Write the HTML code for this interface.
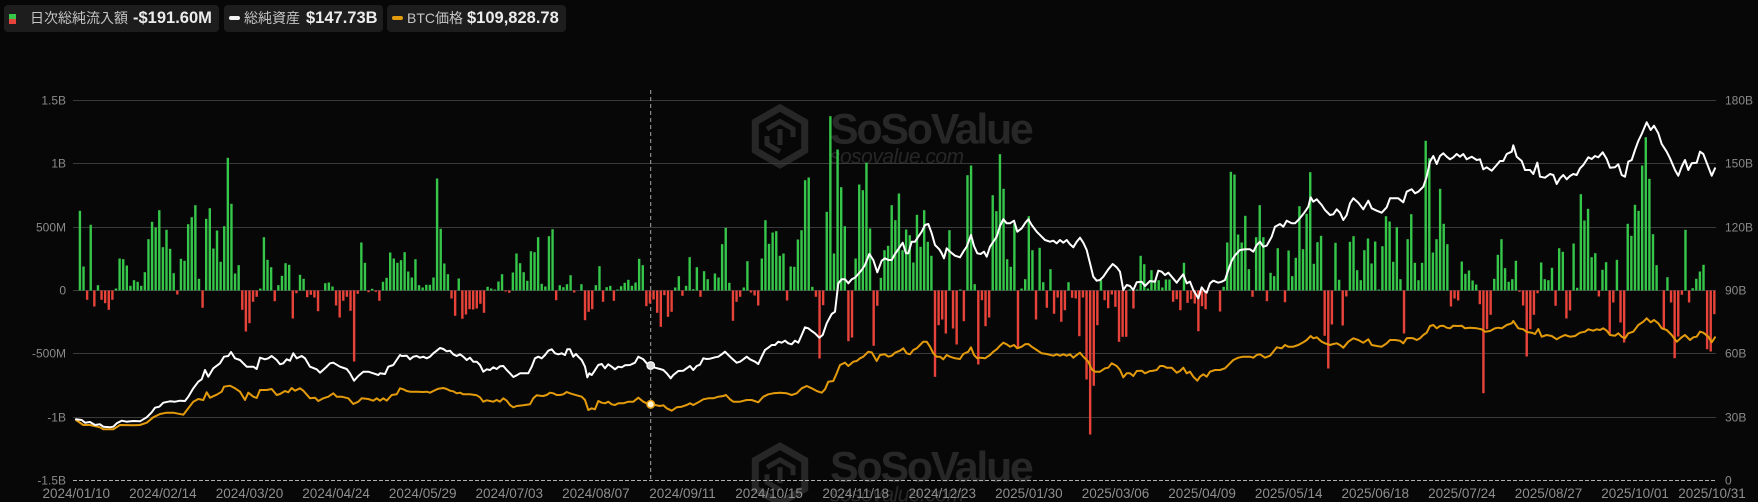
<!DOCTYPE html>
<html><head><meta charset="utf-8">
<style>
html,body{margin:0;padding:0;background:#070707;width:1758px;height:502px;overflow:hidden;}
#wrap{position:relative;width:1758px;height:502px;font-family:"Liberation Sans","Noto Sans CJK JP",sans-serif;}
.box{position:absolute;top:5px;height:27px;background:#1d1d1d;border-radius:4px;}
.lab{position:absolute;top:5px;height:27px;line-height:27px;font-size:14px;color:#c4c4c4;white-space:nowrap;}
.val{position:absolute;top:5px;height:27px;line-height:27px;font-size:16.5px;font-weight:bold;color:#ececec;white-space:nowrap;}
svg{position:absolute;left:0;top:0;}
</style></head><body><div id="wrap">
<svg width="1758" height="502" xmlns="http://www.w3.org/2000/svg">
<g fill="none" stroke="#272727">
<polygon points="780,107.8 804.7,122 804.7,150.5 780,164.8 755.3,150.5 755.3,122" stroke-width="7"/>
<path d="M767,129 L780,121.5 L793,129 L793,137 M780,129 L780,145 M767,136 L767,144 L780,151.5" stroke-width="5"/>
<polygon points="780,446.1 804.7,460.3 804.7,488.8 780,503.1 755.3,488.8 755.3,460.3" stroke-width="7"/>
<path d="M767,467.3 L780,459.8 L793,467.3 L793,475.3 M780,467.3 L780,483.3 M767,474.3 L767,482.3 L780,489.8" stroke-width="5"/>
</g>
<g fill="#272727" font-family="Liberation Sans, sans-serif">
<text x="830" y="143.3" font-size="43" font-weight="bold" letter-spacing="-2.3">SoSoValue</text>
<text x="830" y="163.3" font-size="21" font-style="italic" letter-spacing="-0.5">sosovalue.com</text>
<text x="830" y="481.6" font-size="43" font-weight="bold" letter-spacing="-2.3">SoSoValue</text>
<text x="830" y="501.6" font-size="21" font-style="italic" letter-spacing="-0.5">sosovalue.com</text>
</g>
<g stroke="#3a3a3a" stroke-width="1">
<line x1="73" y1="100.5" x2="1716" y2="100.5"/>
<line x1="73" y1="163.5" x2="1716" y2="163.5"/>
<line x1="73" y1="227.5" x2="1716" y2="227.5"/>
<line x1="73" y1="290.5" x2="1716" y2="290.5"/>
<line x1="73" y1="353.5" x2="1716" y2="353.5"/>
<line x1="73" y1="417.5" x2="1716" y2="417.5"/>
</g>
<line x1="73" y1="480.5" x2="1716" y2="480.5" stroke="#b0b0b0" stroke-width="1" stroke-dasharray="4 2"/>
<line x1="650.7" y1="90" x2="650.7" y2="480" stroke="#a8a8a8" stroke-width="1" stroke-dasharray="4 3"/>
<g id="bars"></g>
<g id="lines" fill="none" stroke-linejoin="round" stroke-linecap="round"></g>
<circle cx="650.7" cy="365.5" r="3.8" fill="#d8d8d8" stroke="#ffffff" stroke-width="1.2"/>
<circle cx="650.7" cy="404.3" r="3.8" fill="#fff3d0" stroke="#e39b0b" stroke-width="1.5"/>
<g font-family="Liberation Sans, sans-serif" font-size="12" fill="#8a8a8a" text-anchor="end">
<text x="66" y="104.5">1.5B</text>
<text x="66" y="167.5">1B</text>
<text x="66" y="231.5">500M</text>
<text x="66" y="294.5">0</text>
<text x="66" y="357.5">-500M</text>
<text x="66" y="421.5">-1B</text>
<text x="66" y="484.5">-1.5B</text>
</g>
<g font-family="Liberation Sans, sans-serif" font-size="12" fill="#8a8a8a">
<text x="1725" y="104.5">180B</text>
<text x="1725" y="167.5">150B</text>
<text x="1725" y="231.5">120B</text>
<text x="1725" y="294.5">90B</text>
<text x="1725" y="357.5">60B</text>
<text x="1725" y="421.5">30B</text>
<text x="1725" y="484.5">0</text>
</g>
<g font-family="Liberation Sans, sans-serif" font-size="13.5" fill="#8e8e8e" text-anchor="middle">
<text x="76.3" y="498">2024/01/10</text>
<text x="162.9" y="498">2024/02/14</text>
<text x="249.5" y="498">2024/03/20</text>
<text x="336.1" y="498">2024/04/24</text>
<text x="422.7" y="498">2024/05/29</text>
<text x="509.3" y="498">2024/07/03</text>
<text x="595.9" y="498">2024/08/07</text>
<text x="682.5" y="498">2024/09/11</text>
<text x="769.1" y="498">2024/10/15</text>
<text x="855.7" y="498">2024/11/18</text>
<text x="942.3" y="498">2024/12/23</text>
<text x="1028.9" y="498">2025/01/30</text>
<text x="1115.5" y="498">2025/03/06</text>
<text x="1202.1" y="498">2025/04/09</text>
<text x="1288.7" y="498">2025/05/14</text>
<text x="1375.3" y="498">2025/06/18</text>
<text x="1461.9" y="498">2025/07/24</text>
<text x="1548.5" y="498">2025/08/27</text>
<text x="1635.1" y="498">2025/10/01</text>
<text x="1712" y="498">2025/10/31</text>
</g>
</svg>

<div class="box" style="left:4px;width:215px;"></div>
<div style="position:absolute;left:8.5px;top:13.5px;width:7px;height:5px;background:#35c64a;"></div>
<div style="position:absolute;left:8.5px;top:18.5px;width:7px;height:5px;background:#e8433a;"></div>
<div class="lab" style="left:30px;">日次総純流入額</div>
<div class="val" style="left:133px;">-$191.60M</div>

<div class="box" style="left:224px;width:159px;"></div>
<div style="position:absolute;left:228.5px;top:16px;width:11px;height:3.5px;background:#f2f2f2;border-radius:2px;"></div>
<div class="lab" style="left:244px;">総純資産</div>
<div class="val" style="left:306px;">$147.73B</div>

<div class="box" style="left:387px;width:179px;"></div>
<div style="position:absolute;left:392px;top:16px;width:11px;height:3.5px;background:#e39b0b;border-radius:2px;"></div>
<div class="lab" style="left:407px;">BTC価格</div>
<div class="val" style="left:467px;">$109,828.78</div>
</div>
<script>
(function(){
const X0=76.3,DX=3.608,ZY=290.5;
const segs=[
[1,[79.7,24,-9.3,65.7,-16,5.3,-9.3,-12.7,-19.3,-9.3,
2,32,31.3,25,4.7,10.3,8.7,4.7,18.3,51.3,
68.7,63,80.3,43.3,60.7,41.7,17.3,-4,31.7,29.7,
66.3,73.3,85.3,11.7,-17.3,71.7,82.3,42,60,28.7,
64.3,132.7,86.7,17,25.3,-19.3,-41,-32.7,-11.3,-6.3,
2,53.3,30.7,23.3,-10.7,5.3,14.7,27.3,25.7,-28,
-2.7,15.7,11.7,-6.7,-4.3,-7,-20.7,0,7.3,8,
4,-15,-27,-10.3,-6.3,-20.3,-71,-3.3,48,27.7,
-1.7,1.7,-1.3,-10.3,8.7,12.7]],
[87,[38,32,27.7,30.3,38.3,19,13,31.3,5.3,3,
5.7,5.7,13,112,61.7,27,16.3,-8,-25.3,12,
-28.3,-24,-18.7,-19,-18,-13.3,-22.3,3.7,2,1,
9,16.3,-1,-2.3,18,37,27.3,18.3,9.7,39.3,
38.3,53.3,6.7,4,54.3,61.3,-9.7,5.3,3.3,6.3,
15.3,-2,0,6.3,-29.7,-21.3,-18.7,5.3,24.3,-11.3,
3.3,4.7,-10.3,1,4.3,7.7,10.7,4.7,8,31.7,
25.3,-15.7,-13]],
[160,[-9,-22.3,-36.3,-4.7,-26.3,-21.3,3,14.3,-5.3,4.7,
33.3,1.3,23.3,-6.3,19.3,11.3,0,17,13,46.3,
62.7,7.7,-30.3,-11.3,-6.3,3,29.3,-2,-5,-15,
32,70.3,46.7,58,59.3,34.7,37,-10,24,23.7,
51,60.3,110.3,113,3.7,-6.3,-68,-14.7,78.7,174.3,
37,141,103.3,64.3,-50.7,-47,32,106,100.3,127.7,
62,-55.3,-15.3,12.7,40.3,44.7,85.3,70.3,97]],
[229,[40.3,61,55.3,28,75.7,43.7,80.3,48.7,34.7,-86.3,
-34.7,-29,-43,60.3,-38,-54,1,-30.7,115.3,125,
6.3,-74,-9.7,-35.7,-27,95.3,79.3,136.3,101.7,31.3,
23.7,67,-57.3,2,11.3,74.3,40.3,-29,42.7,8.3,
-17.3,21.3,-23.3,-7,-31.3,-19.7,8.3,-7.3,-8,-45.7,
-7,-89,-144,-95.3,-34.7,10.3,-9.7,-17.7,-4,-16.3,
-51.3,-46.3,-46.3,1,-18,1,34.7,26.3,2]],
[298,[20.3,10.3,10.3,3,11,11,-11.3,-8.7,-19.7,27.7,
-12.3,-8.7,-13,-40.7,-15.7,-18.7,0,0,0,-21,
3.7,48,118.7,116,56,48,74.7,21.3,-6.3,53.3,
85.3,53.3,-10.7,17.7,14.3,42.3,0,-11.7,40,14.3,
32.7,84.3,41.3,76.7,118.3,26.7,48.3,54.7,-45.3,-78,
-34,47.7,10.7,-35,-6,48.7,54.3,20.3,10.3,40.3,
52,27,49,1,44.3,74.3,69,28.7,63.3,11.3,
-43,51.3]],
[370,[76.3,27.7,10.3,27.7,149.7,132.3,38,51.3,101.7,66.7,
46.3,-16,-8,-10,29,16.7,20,10,6,-13.7,
-102.7,-38.7,-24.3,11.7,35.7,51.3,22.3,8.7,11.3,29.7,
-1.3,-15,-66,-38.7,-24.3,-2.7,28,11.3,10.3,22.7,
-15.3,42.3,38.7,-28,-20,47,2.7,96.3,70,81.7,
33.3,37.3,-6,20.7,28.3,-43.3,-12,30.7,-32,-52,
66.7,54.7,85.7,79.7,125,153.3,111.7,56.3,25.3,0,
-39.3,13.3,-12,-67.7,-46,-4.3,60.7,-12,2.3,11.7,
19,25.7,-58.7,-61,-23.7]]
];
let s='';
for(const [st,arr] of segs){
  arr.forEach(function(h,k){
    const i=st+k; const x=X0+DX*i-1.2;
    if(Math.abs(h)<0.4) return;
    const y=h>0?ZY-h:ZY;
    s+='<rect x="'+x.toFixed(2)+'" y="'+y.toFixed(2)+'" width="2.4" height="'+Math.abs(h).toFixed(2)+'" fill="'+(h>0?'#35c64a':'#e8433a')+'"/>';
  });
}
document.getElementById('bars').innerHTML=s;

const white=[
[0,80,0,400.5,[[228,1018],[245,1020],[255,1028],[270,1026],[285,1035],[300,1033],[310,1040],[330,1042],[340,1040],[350,1030],[365,1022],[380,1025],[400,1023],[420,1024],[440,1012],[455,997],[465,983],[478,980],[490,968],[510,964],[525,965],[540,962],[555,963],[565,950],[580,925],[595,905],[605,898],[615,870],[625,890],[640,865],[660,850],[672,830],[685,828],[693,816],[705,835],[720,840],[740,860],[760,860],[770,867],[780,833],[795,838],[805,835],[815,828],[830,840],[840,853],[850,850],[860,838],[870,842],[880,820],[890,835],[905,828],[915,835],[930,860],[950,868],[960,878],[980,860],[990,850],[1000,848],[1020,860],[1040,867],[1050,880],[1062,902],[1075,888],[1090,875],[1105,875],[1120,880],[1135,885],[1140,880],[1155,882],[1165,860],[1180,855],[1200,825]]],
[390,90,400.5,650,[[35,798],[50,797],[60,808],[70,800],[80,798],[90,803],[100,800],[110,805],[120,800],[130,790],[140,782],[150,774],[160,777],[170,784],[180,782],[190,793],[200,798],[210,793],[220,800],[230,810],[240,803],[250,815],[260,815],[270,825],[280,845],[290,838],[300,840],[310,832],[320,837],[330,829],[340,828],[350,840],[360,850],[370,861],[380,856],[390,850],[400,850],[415,850],[425,830],[435,805],[445,800],[455,805],[465,795],[475,782],[485,778],[495,790],[505,793],[515,790],[525,795],[532,778],[540,778],[550,800],[558,792],[565,800],[575,810],[585,830],[592,862],[598,850],[605,855],[612,845],[625,825],[635,822],[645,835],[655,823],[665,830],[675,838],[685,830],[695,832],[705,826],[720,825],[735,818],[745,800],[760,808],[770,820],[780,828]]],
[640,90,650,900,[[30,826],[45,833],[60,837],[70,840],[80,850],[92,865],[100,855],[115,843],[130,842],[140,835],[150,828],[160,840],[170,828],[180,824],[190,805],[200,807],[210,806],[225,802],[235,800],[245,793],[255,785],[265,795],[275,805],[290,818],[300,815],[310,808],[320,800],[330,808],[345,815],[355,822],[365,800],[375,780],[385,773],[395,765],[405,765],[415,755],[425,758],[435,752],[445,760],[455,763],[465,752],[475,758],[485,735],[495,712],[505,715],[515,723],[525,730],[538,743],[548,735],[560,700],[575,672],[585,665],[595,580],[605,568],[615,568],[625,580],[635,568],[645,563],[655,552],[665,540],[675,525],[688,492],[700,510],[712,547],[725,512],[735,505],[745,510],[755,510],[765,492],[780,480]]],
[890,90,900,1150,[[30,470],[38,458],[48,490],[55,490],[65,455],[75,455],[85,440],[95,425],[105,405],[115,402],[125,430],[135,465],[148,478],[155,490],[162,505],[170,475],[180,485],[195,497],[210,502],[220,485],[230,470],[243,435],[252,468],[262,490],[272,492],[282,485],[290,500],[300,470],[310,455],[320,440],[330,408],[340,388],[350,400],[360,400],[372,392],[382,425],[395,415],[405,400],[415,388],[425,405],[440,425],[455,440],[465,450],[480,455],[490,452],[500,460],[510,450],[520,458],[530,450],[540,463],[550,472],[560,455],[570,443],[580,458],[590,480],[600,520],[610,560],[620,572],[630,570],[640,560],[655,538],[668,522],[680,532],[690,545],[700,600],[710,585],[720,588],[730,600],[740,577],[755,575],[765,588],[780,565]]],
[1140,90,1150,1410,[[30,573],[45,575],[55,542],[65,545],[75,555],[85,548],[95,560],[110,578],[120,565],[130,553],[140,580],[150,575],[160,600],[175,625],[185,592],[195,605],[200,608],[210,580],[220,572],[235,578],[245,575],[255,570],[265,540],[275,512],[285,496],[300,480],[315,478],[330,478],[340,485],[350,465],[360,455],[370,470],[380,467],[395,440],[405,410],[420,402],[430,410],[440,392],[455,400],[465,400],[475,390],[485,378],[495,365],[505,350],[512,322],[520,335],[530,328],[545,345],[555,360],[570,375],[580,373],[590,358],[600,368],[610,390],[620,375],[630,340],[640,325],[655,338],[670,358],[685,332],[695,355],[710,362],[725,368],[740,352],[750,325],[760,325],[775,325],[790,337],[800,305],[810,300]]],
[1400,80,1410,1800,[[30,330],[35,328],[45,340],[55,335],[70,320],[80,290],[90,245],[100,228],[110,252],[120,228],[130,220],[140,230],[150,238],[160,232],[170,222],[180,230],[190,222],[200,238],[215,230],[230,240],[240,238],[250,268],[260,262],[275,272],[290,255],[300,243],[310,243],[320,222],[335,215],[340,196],[350,230],[365,243],[375,270],[390,270],[400,282],[412,248],[420,290],[435,293],[450,282],[460,285],[470,312],[480,295],[490,285],[500,298],[510,288],[520,282],[530,285],[540,265],[550,255],[565,232],[575,237],[585,228],[595,232],[608,217],[620,237],[630,263],[645,262],[655,253],[665,285],[675,290],[685,245],[695,240],[705,210],[715,183],[725,162],[740,127],[752,150],[762,137],[775,160],[785,192],[800,215],[810,235],[825,270],[835,287],[845,260],[855,240],[865,270],[875,250],[890,248],[900,215],[910,222],[920,248],[935,287],[945,265]]]
];
const orange=[
[0,80,0,400.5,[[228,1020],[250,1035],[270,1035],[300,1042],[310,1048],[340,1048],[360,1035],[400,1036],[420,1035],[440,1028],[460,1012],[480,1002],[500,998],[520,998],[550,1004],[565,985],[580,965],[595,957],[610,960],[620,937],[630,953],[650,944],[665,935],[672,920],[690,917],[705,925],[720,935],[735,960],[745,938],[760,950],[770,954],[780,930],[800,930],[815,927],[830,945],[840,942],[855,933],[865,937],[875,924],[885,932],[900,925],[910,932],[930,955],[945,953],[955,963],[970,955],[985,950],[1000,940],[1010,950],[1025,950],[1045,955],[1060,972],[1075,965],[1085,955],[1105,957],[1120,962],[1130,955],[1140,962],[1150,955],[1160,962],[1175,945],[1190,943],[1200,925]]],
[390,90,400.5,650,[[30,893],[40,898],[50,903],[60,905],[80,905],[100,906],[110,905],[120,908],[130,903],[145,896],[160,894],[170,897],[180,902],[190,904],[200,910],[210,908],[220,913],[240,913],[260,916],[270,922],[280,935],[290,931],[300,933],[310,935],[320,930],[330,935],[340,925],[350,932],[360,945],[370,952],[380,948],[400,946],[420,943],[430,925],[440,916],[450,917],[460,918],[470,915],[480,908],[490,910],[500,915],[510,915],[520,913],[530,906],[540,910],[550,913],[560,916],[575,920],[585,930],[595,960],[605,955],[615,958],[625,933],[635,938],[645,940],[655,935],[665,943],[675,945],[685,940],[700,940],[715,935],[730,935],[745,923],[760,935],[770,940],[780,942]]],
[640,90,650,900,[[30,943],[45,945],[60,948],[70,946],[80,955],[95,962],[110,952],[125,950],[140,945],[150,940],[160,945],[175,937],[190,928],[205,925],[220,925],[235,920],[250,918],[258,915],[270,928],[280,935],[300,935],[320,930],[335,930],[355,937],[370,920],[385,913],[400,910],[420,908],[440,910],[455,915],[470,910],[485,895],[500,888],[515,895],[530,903],[545,908],[555,898],[565,875],[580,873],[590,850],[600,825],[615,818],[625,828],[640,815],[650,813],[660,805],[670,800],[685,785],[695,787],[710,813],[720,795],[735,793],[745,800],[755,797],[765,788],[780,785]]],
[890,90,900,1150,[[30,782],[40,775],[50,790],[60,793],[70,780],[80,775],[90,765],[100,755],[110,755],[120,770],[130,790],[140,800],[150,800],[160,808],[170,795],[180,800],[195,805],[210,807],[220,792],[235,785],[243,772],[252,795],[262,805],[272,803],[285,805],[300,795],[310,785],[320,778],[330,767],[340,758],[350,763],[360,770],[372,765],[382,775],[395,770],[405,763],[415,762],[425,770],[440,780],[455,790],[470,792],[490,797],[500,793],[510,797],[520,793],[530,797],[540,793],[550,803],[560,795],[570,788],[580,800],[595,815],[605,838],[615,845],[630,845],[645,835],[655,833],[665,820],[680,828],[690,840],[700,862],[710,850],[720,850],[730,858],[740,843],[755,842],[765,850],[780,838]]],
[1140,90,1150,1410,[[30,843],[35,843],[50,840],[60,828],[70,828],[80,833],[95,833],[110,848],[120,843],[130,833],[140,850],[150,845],[160,860],[172,872],[180,860],[190,853],[200,860],[210,845],[225,840],[240,840],[255,835],[270,820],[280,810],[295,803],[310,800],[330,800],[340,803],[350,795],[360,793],[375,803],[390,797],[400,785],[410,772],[425,775],[435,765],[445,770],[460,770],[475,765],[490,757],[500,750],[512,738],[520,745],[530,742],[545,755],[555,760],[570,765],[580,762],[590,760],[600,765],[610,773],[625,755],[640,745],[655,750],[670,758],[685,748],[695,765],[710,768],[725,770],[740,760],[750,750],[765,750],[780,752],[790,760],[800,745],[810,742]]],
[1400,80,1410,1800,[[30,774],[40,775],[50,780],[60,775],[70,765],[80,758],[90,738],[100,735],[110,745],[120,738],[130,737],[140,743],[150,745],[160,737],[175,738],[185,737],[195,745],[210,743],[230,745],[245,748],[255,755],[270,753],[285,745],[295,743],[305,745],[320,735],[335,730],[340,723],[355,745],[370,748],[380,756],[395,758],[405,762],[415,747],[425,770],[440,765],[455,768],[470,778],[480,772],[495,765],[510,770],[525,768],[540,758],[555,755],[565,748],[580,752],[590,748],[600,750],[610,745],[620,752],[630,765],[645,767],[655,760],[665,770],[675,775],[685,760],[700,755],[715,735],[730,725],[740,715],[752,727],[762,720],[775,730],[785,745],[800,750],[815,765],[830,785],[845,772],[855,765],[870,780],[880,772],[890,770],[900,755],[910,758],[925,770],[935,787],[945,772]]]
];
function build(sg){
  const pts=[];
  for(const [ox,oy,a,b,arr] of sg){
    for(const p of arr){
      const x=ox+p[0]/3,y=oy+p[1]/3;
      if(x>=a&&x<b) pts.push(x.toFixed(1)+','+y.toFixed(1));
    }
  }
  return pts.join(' ');
}
document.getElementById('lines').innerHTML=
 '<polyline points="'+build(orange)+'" stroke="#e39b0b" stroke-width="2"/>'+
 '<polyline points="'+build(white)+'" stroke="#ffffff" stroke-width="2"/>';
})();
</script>
</body></html>
